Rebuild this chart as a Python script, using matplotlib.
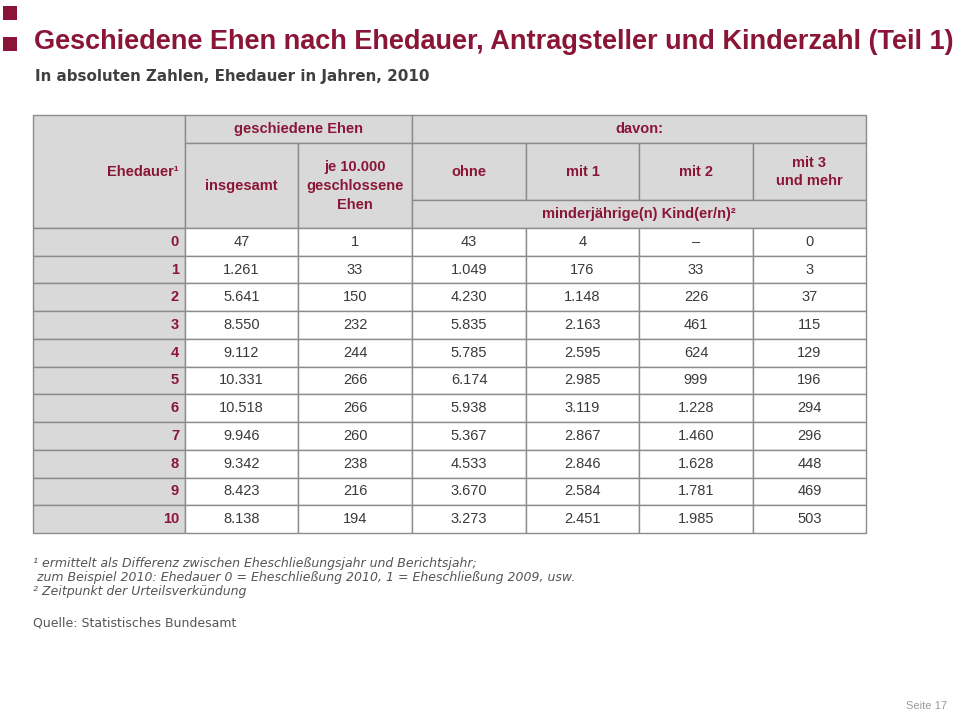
import matplotlib.pyplot as plt
from matplotlib.patches import Rectangle

plt.rcParams['font.family'] = ['Liberation Sans', 'DejaVu Sans']

# Daten
ehedauer = [0, 1, 2, 3, 4, 5, 6, 7, 8, 9, 10]
insgesamt = [47, 1261, 5641, 8550, 9112, 10331, 10518, 9946, 9342, 8423, 8138]
je_10000 = [1, 33, 150, 232, 244, 266, 266, 260, 238, 216, 194]
ohne = [43, 1049, 4230, 5835, 5785, 6174, 5938, 5367, 4533, 3670, 3273]
mit_1 = [4, 176, 1148, 2163, 2595, 2985, 3119, 2867, 2846, 2584, 2451]
mit_2 = [None, 33, 226, 461, 624, 999, 1228, 1460, 1628, 1781, 1985]
mit_3 = [0, 3, 37, 115, 129, 196, 294, 296, 448, 469, 503]

titel = 'Geschiedene Ehen nach Ehedauer, Antragsteller und Kinderzahl (Teil 1)'
untertitel = 'In absoluten Zahlen, Ehedauer in Jahren, 2010'
fussnoten = ['\u00b9 ermittelt als Differenz zwischen Eheschließungsjahr und Berichtsjahr;',
             ' zum Beispiel 2010: Ehedauer 0 = Eheschließung 2010, 1 = Eheschließung 2009, usw.',
             '\u00b2 Zeitpunkt der Urteilsverkündung']
quelle = 'Quelle: Statistisches Bundesamt'

ROT = '#8b1538'
GRAU = '#d9d9d9'
LINIE = '#8c8c8c'
TEXT = '#3a3a3a'


def fmt(v):
    if v is None:
        return '\u2013'
    return f'{v:,}'.replace(',', '.')


fig = plt.figure(figsize=(9.6, 7.12), dpi=100)
ax = fig.add_axes([0, 0, 1, 1])
ax.set_xlim(0, 960)
ax.set_ylim(712, 0)
ax.axis('off')


def zelle(x0, y0, x1, y1, farbe):
    ax.add_patch(Rectangle((x0, y0), x1 - x0, y1 - y0, facecolor=farbe,
                           edgecolor=LINIE, linewidth=1.0))


# Quadrate und Titel
ax.add_patch(Rectangle((3, 6), 14, 14, color=ROT, linewidth=0))
ax.add_patch(Rectangle((3, 37), 14, 14, color=ROT, linewidth=0))
ax.text(34, 42, titel, color=ROT, fontsize=19.5, fontweight='bold', va='center', ha='left')
ax.text(35, 77, untertitel, color='#404040', fontsize=10.9, fontweight='bold',
        va='center', ha='left', family='DejaVu Sans')

# Spaltengrenzen
xs = [33, 185, 298, 412, 526, 639, 753, 866]
y_top, y_r1, y_r2, y_r3 = 115, 143, 200, 228
row_h = (533 - 228) / 11

# Kopf
zelle(xs[0], y_top, xs[1], y_r3, GRAU)
zelle(xs[1], y_top, xs[3], y_r1, GRAU)
zelle(xs[1], y_r1, xs[2], y_r3, GRAU)
zelle(xs[2], y_r1, xs[3], y_r3, GRAU)
zelle(xs[3], y_top, xs[7], y_r1, GRAU)
for i in range(3, 7):
    zelle(xs[i], y_r1, xs[i + 1], y_r2, GRAU)
zelle(xs[3], y_r2, xs[7], y_r3, GRAU)

kopf = dict(color=ROT, fontsize=10.5, fontweight='bold', va='center')
ax.text(xs[1] - 6, 172, 'Ehedauer\u00b9', ha='right', **kopf)
ax.text((xs[1] + xs[3]) / 2, 129, 'geschiedene Ehen', ha='center', **kopf)
ax.text((xs[1] + xs[2]) / 2, 186, 'insgesamt', ha='center', **kopf)
ax.text((xs[2] + xs[3]) / 2, 186, 'je 10.000\ngeschlossene\nEhen', ha='center',
        linespacing=1.45, **kopf)
ax.text((xs[3] + xs[7]) / 2, 129, 'davon:', ha='center', **kopf)
for i, t in zip(range(3, 7), ['ohne', 'mit 1', 'mit 2', 'mit 3\nund mehr']):
    ax.text((xs[i] + xs[i + 1]) / 2, 172, t, ha='center', linespacing=1.45, **kopf)
ax.text((xs[3] + xs[7]) / 2, 214, 'minderjährige(n) Kind(er/n)\u00b2', ha='center', **kopf)

# Datenzeilen
spalten = [insgesamt, je_10000, ohne, mit_1, mit_2, mit_3]
for r, d in enumerate(ehedauer):
    y0 = y_r3 + r * row_h
    y1 = y0 + row_h
    yc = (y0 + y1) / 2
    zelle(xs[0], y0, xs[1], y1, GRAU)
    ax.text(xs[1] - 6, yc, str(d), ha='right', **kopf)
    for c, werte in enumerate(spalten):
        zelle(xs[c + 1], y0, xs[c + 2], y1, 'white')
        ax.text((xs[c + 1] + xs[c + 2]) / 2, yc, fmt(werte[r]), ha='center', va='center',
                color=TEXT, fontsize=10.5)

# Fussnoten
for i, t in enumerate(fussnoten):
    ax.text(33, 563 + i * 14.5, t, color='#555555', fontsize=9, style='italic',
            va='center', ha='left', family='DejaVu Sans')
ax.text(33, 623, quelle, color='#555555', fontsize=9, va='center', ha='left',
        family='DejaVu Sans')
ax.text(947, 706, 'Seite 17', color='#999999', fontsize=8, va='center', ha='right')

fig.savefig('out.png', dpi=100)
